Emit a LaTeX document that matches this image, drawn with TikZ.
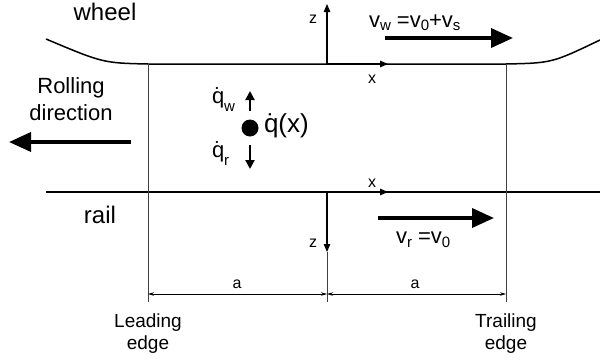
\documentclass[tikz,border=0pt]{standalone}
\usepackage{fontspec}
\setmainfont{Liberation Sans}
\usetikzlibrary{arrows.meta}
\newcommand\fsz[1]{\fontsize{#1}{#1}\selectfont}
\newcommand\qdot{\accent"02D9 q}
\newcommand\lsub[2]{\raisebox{-#1pt}{\fontsize{15}{15}\selectfont #2}}
\begin{document}
\begin{tikzpicture}[x=1pt,y=-1pt,
  every node/.style={inner sep=0pt, outer sep=0pt},
  contour/.style={line width=1.5pt},
  edgeline/.style={line width=1pt, draw=black!75},
  axisarrow/.style={line width=1.1pt, -{Triangle[length=8pt,width=6.5pt]}},
  dimarrow/.style={line width=0.7pt, {Stealth[length=6pt,width=3.5pt]}-{Stealth[length=6pt,width=3.5pt]}},
  bigarrow/.style={line width=3.6pt, -{Triangle[length=22pt,width=19pt]}},
  qarrow/.style={line width=2pt, -{Triangle[length=9pt,width=9pt]}},
  biglabel/.style={anchor=base, font=\fsz{24}},
  midlabel/.style={anchor=base, font=\fsz{22}},
  edgelabel/.style={align=center, font=\fontsize{19}{22}\selectfont},
  smalllabel/.style={anchor=base, font=\fsz{16}}]
\useasboundingbox (0,0) rectangle (600,362);
% coordinates
\coordinate (WL) at (46,39);
\coordinate (LT) at (148,64);
\coordinate (RT) at (506,64);
\coordinate (WR) at (600,40);
\coordinate (RL) at (46,192);
\coordinate (RR) at (600,192);
\coordinate (LB) at (148,302);
\coordinate (RB) at (506,302);
\coordinate (O1) at (327,64);
\coordinate (Z1) at (327,4);
\coordinate (X1) at (388,64);
\coordinate (O2) at (327,192);
\coordinate (X2) at (388,192);
\coordinate (Z2) at (327,252);
\coordinate (CB) at (327,302);
\coordinate (DL) at (148,294);
\coordinate (DC) at (327,294);
\coordinate (DR) at (506,294);
\coordinate (VWs) at (385,38);
\coordinate (VWe) at (513,38);
\coordinate (VRs) at (378,218);
\coordinate (VRe) at (494,218);
\coordinate (RDs) at (131,142);
\coordinate (RDe) at (9,142);
\coordinate (QWs) at (250,111);
\coordinate (QWe) at (250,91);
\coordinate (QRs) at (250,145);
\coordinate (QRe) at (250,169);
% wheel and rail contours
\draw[contour] (WL) .. controls (103,63) .. (LT) -- (RT) .. controls (552,63) .. (WR);
\draw[contour] (RL) -- (RR);
% edges
\draw[edgeline] (LT) -- (LB);
\draw[edgeline] (RT) -- (RB);
% axes
\draw[axisarrow] (O1) -- (Z1);
\draw[axisarrow] (O1) -- (X1);
\draw[axisarrow] (O2) -- (X2);
\draw[axisarrow] (O2) -- (Z2);
\draw[line width=0.7pt, draw=black!75] (Z2) -- (CB);
% dimensions
\draw[dimarrow] (DL) -- (DC);
\draw[dimarrow] (DC) -- (DR);
% velocity arrows
\draw[bigarrow] (VWs) -- (VWe);
\draw[bigarrow] (VRs) -- (VRe);
\draw[bigarrow] (RDs) -- (RDe);
% point
\node[circle, fill, minimum size=17pt] (dot) at (250,128) {};
\draw[qarrow] (QWs) -- (QWe);
\draw[qarrow] (QRs) -- (QRe);
% labels
\node[biglabel] (wheel) at (105,20) {wheel};
\node[biglabel] (rail) at (100,223) {rail};
\node[align=center, font=\fontsize{22}{27}\selectfont, anchor=base] (roll) at (71,120) {Rolling\\direction};
\node[edgelabel, anchor=base] (lead) at (148,349) {Leading\\edge};
\node[edgelabel, anchor=base] (trail) at (506,349) {Trailing\\edge};
\node[smalllabel] (z1) at (313,23) {z};
\node[smalllabel] (x1) at (372,83) {x};
\node[smalllabel] (x2) at (372,187) {x};
\node[smalllabel] (z2) at (313,247) {z};
\node[smalllabel] (a1) at (237,288) {a};
\node[smalllabel] (a2) at (415,288) {a};
\node[midlabel, anchor=base west] (vw) at (369,27) {v\lsub{3}{w} =v\lsub{3}{0}+v\lsub{3}{s}};
\node[midlabel, anchor=base west] (vr) at (396,243) {v\lsub{4}{r} =v\lsub{4}{0}};
\node[midlabel, anchor=base west] (qw) at (212,103) {\qdot\lsub{8}{w}};
\node[midlabel, anchor=base west] (qr) at (212,157) {\qdot\lsub{8}{r}};
\node[anchor=base west, font=\fsz{26}] (qx) at (264,132) {\qdot(x)};
\end{tikzpicture}
\end{document}
